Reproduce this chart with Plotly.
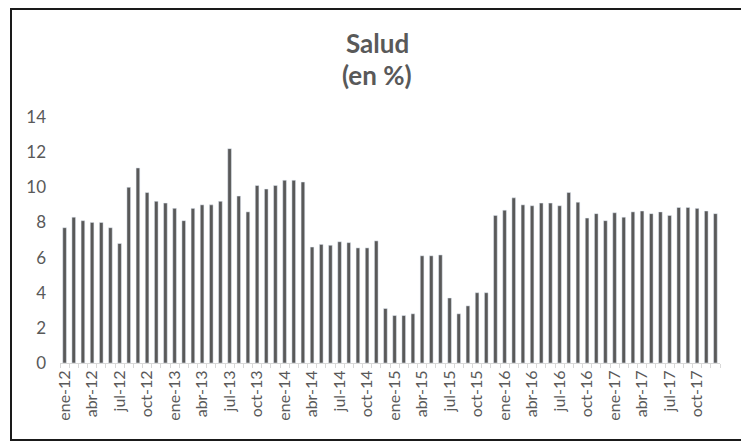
import plotly.graph_objects as go

meses = ['ene', 'feb', 'mar', 'abr', 'may', 'jun', 'jul', 'ago', 'sep', 'oct', 'nov', 'dic']
anios = ['12', '13', '14', '15', '16', '17']
periodos = [m + '-' + a for a in anios for m in meses]

# salud, variacion en %
salud = [7.7, 8.3, 8.1, 8.0, 8.0, 7.7, 6.8, 10.0, 11.1, 9.7, 9.2, 9.1,
         8.8, 8.1, 8.8, 9.0, 9.0, 9.2, 12.2, 9.5, 8.6, 10.1, 9.9, 10.1,
         10.4, 10.4, 10.3, 6.6, 6.75, 6.7, 6.9, 6.85, 6.55, 6.55, 6.95, 3.1,
         2.7, 2.7, 2.8, 6.1, 6.1, 6.15, 3.7, 2.8, 3.25, 4.0, 4.0, 8.4,
         8.7, 9.4, 9.0, 8.95, 9.1, 9.1, 8.95, 9.7, 9.15, 8.25, 8.5, 8.1,
         8.55, 8.3, 8.6, 8.65, 8.5, 8.6, 8.4, 8.85, 8.85, 8.8, 8.65, 8.5]

idx = list(range(len(periodos)))

# the page body has an 8px margin, so work in window coords minus OFF
OFF = 8
W, H = 749 - OFF, 442 - OFF
ml, mr, mt, mb = 60 - OFF, 29, 117 - OFF, 79
pw, ph = W - ml - mr, H - mt - mb

def px(x):
    return (x - OFF - ml) / pw

def py(y):
    return (H - mb - (y - OFF)) / ph

fig = go.Figure()
fig.add_trace(go.Bar(x=idx, y=salud, width=0.4, marker_color='#595959',
                     hovertext=periodos))

fig.update_layout(
    width=W, height=H,
    margin=dict(l=ml, r=mr, t=mt, b=mb),
    paper_bgcolor='white', plot_bgcolor='white',
    font=dict(family='Lato', color='#595959', size=16),
    showlegend=False,
)
fig.update_xaxes(
    range=[-0.5, len(periodos) - 0.5],
    tickvals=idx[::3], ticktext=periodos[::3], tickangle=-90,
    showline=True, linecolor='#d9d9d9', linewidth=1,
    ticks='', showgrid=False, zeroline=False,
    minor=dict(ticks='outside', tick0=-0.5, dtick=1, ticklen=4,
               tickcolor='#d9d9d9', showgrid=False),
    tickfont=dict(size=16),
)
fig.update_yaxes(
    range=[0, 14], dtick=2, showgrid=False, zeroline=False,
    showline=False, ticks='', ticklabelstandoff=13,
    tickfont=dict(size=17),
)

# titulo en dos lineas
for txt, yc in [('<b>Salud</b>', 43), ('<b>(en %)</b>', 75)]:
    fig.add_annotation(text=txt, xref='paper', yref='paper',
                       x=px(377), y=py(yc), xanchor='center', yanchor='middle',
                       showarrow=False,
                       font=dict(family='Lato', size=26, color='#595959'))

# recuadro exterior del grafico
fig.add_shape(type='rect', xref='paper', yref='paper',
              x0=px(11), x1=px(742), y0=py(440), y1=py(9),
              line=dict(color='#1a1a1a', width=2), layer='above')

fig.write_html('out.html')
